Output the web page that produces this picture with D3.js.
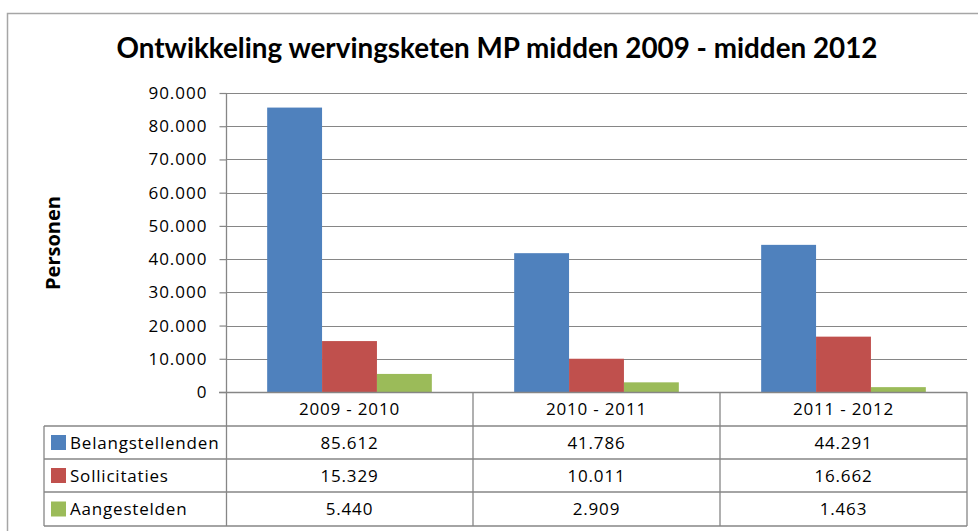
<!DOCTYPE html>
<html>
<head>
<meta charset="utf-8">
<script src="https://cdn.jsdelivr.net/npm/d3@7"></script>
<style>
  body { margin: 0; background: #fff; }
  svg { display: block; font-family: "Open Sans", sans-serif; font-variant-ligatures: none; }
</style>
</head>
<body>
<svg id="chart" width="978" height="531"></svg>
<script>
const categories = ["2009 - 2010", "2010 - 2011", "2011 - 2012"];
const series = ["Belangstellenden", "Sollicitaties", "Aangestelden"];
const belangstellenden = [85612, 41786, 44291];
const sollicitaties = [15329, 10011, 16662];
const aangestelden = [5440, 2909, 1463];
const yTicks = [0, 10000, 20000, 30000, 40000, 50000, 60000, 70000, 80000, 90000];
const colors = ["#4F81BD", "#C0504D", "#9BBB59"];

const values = [belangstellenden, sollicitaties, aangestelden];
const fmt = v => d3.format(",")(v).replace(/,/g, ".");

const svg = d3.select("#chart");
const gridColor = "#868686";

// chart border
svg.append("rect")
   .attr("x", 7.5).attr("y", 13.5)
   .attr("width", 990).attr("height", 540)
   .attr("fill", "none").attr("stroke", "#a6a6a6").attr("stroke-width", 1.5);

// title
svg.append("text")
   .attr("x", 497).attr("y", 58)
   .attr("text-anchor", "middle")
   .attr("font-family", "Lato, sans-serif")
   .attr("font-size", 28).attr("font-weight", "bold")
   .attr("textLength", 761).attr("lengthAdjust", "spacingAndGlyphs")
   .text("Ontwikkeling wervingsketen MP midden 2009 - midden 2012");

// scales
const x = d3.scaleBand().domain(categories).range([226, 967]);
const xs = d3.scaleBand().domain(series).range([0, x.bandwidth()]).paddingOuter(0.75);
const y = d3.scaleLinear().domain([0, 90000]).range([392, 93]);

// gridlines
svg.append("g")
   .selectAll("line")
   .data(yTicks.slice(1))
   .join("line")
   .attr("x1", 226).attr("x2", 967)
   .attr("y1", d => Math.round(y(d)) + 0.5).attr("y2", d => Math.round(y(d)) + 0.5)
   .attr("stroke", gridColor).attr("stroke-width", 1.2);

// bars
series.forEach((s, i) => {
  svg.append("g")
     .selectAll("rect")
     .data(categories)
     .join("rect")
     .attr("x", (c) => x(c) + xs(s))
     .attr("width", xs.bandwidth())
     .attr("y", (c, j) => y(values[i][j]))
     .attr("height", (c, j) => y(0) - y(values[i][j]))
     .attr("fill", colors[i]);
});

// y axis
const yAxis = svg.append("g")
   .attr("transform", "translate(226.5,0)")
   .call(d3.axisLeft(y).tickValues(yTicks).tickFormat(fmt).tickSize(7).tickPadding(12));
yAxis.select(".domain").remove();
yAxis.selectAll("line").attr("stroke", gridColor).attr("stroke-width", 1.2);
yAxis.selectAll("text")
     .attr("font-size", 17).attr("fill", "#000")
     .attr("font-family", "'Open Sans', sans-serif")
     .attr("letter-spacing", 1);

// axis title
svg.append("text")
   .attr("transform", "translate(60,243) rotate(-90)")
   .attr("text-anchor", "middle")
   .attr("font-size", 20).attr("font-weight", "bold")
   .text("Personen");

// data table
const tableLeft = 44, rowTops = [392, 426, 459, 492, 526];
const tbl = svg.append("g").attr("stroke", gridColor).attr("stroke-width", 1.3).attr("fill", "none");

// vertical axis line + table verticals
tbl.append("line").attr("x1", 226.5).attr("x2", 226.5).attr("y1", 93).attr("y2", rowTops[4]);
categories.forEach(c => {
  tbl.append("line").attr("x1", x(c) + x.bandwidth()).attr("x2", x(c) + x.bandwidth())
     .attr("y1", rowTops[0]).attr("y2", rowTops[4]);
});
tbl.append("line").attr("x1", tableLeft).attr("x2", tableLeft).attr("y1", rowTops[1]).attr("y2", rowTops[4]);
// horizontal lines
tbl.append("line").attr("x1", 219).attr("x2", 967).attr("y1", rowTops[0] + 0.5).attr("y2", rowTops[0] + 0.5);
rowTops.slice(1).forEach(t => {
  tbl.append("line").attr("x1", tableLeft).attr("x2", 967).attr("y1", t).attr("y2", t);
});

// category header
svg.append("g")
   .selectAll("text")
   .data(categories)
   .join("text")
   .attr("x", c => x(c) + x.bandwidth() / 2)
   .attr("y", (rowTops[0] + rowTops[1]) / 2 + 6)
   .attr("text-anchor", "middle").attr("font-size", 17).attr("letter-spacing", 0.8)
   .text(c => c);

// series rows
series.forEach((s, i) => {
  const mid = (rowTops[i + 1] + rowTops[i + 2]) / 2;
  svg.append("rect")
     .attr("x", 51).attr("y", mid - 7.5).attr("width", 15).attr("height", 15)
     .attr("fill", colors[i]);
  svg.append("text")
     .attr("x", 70).attr("y", mid + 6)
     .attr("font-size", 17).attr("letter-spacing", 0.8)
     .text(s);
  svg.append("g")
     .selectAll("text")
     .data(categories)
     .join("text")
     .attr("x", c => x(c) + x.bandwidth() / 2)
     .attr("y", mid + 6)
     .attr("text-anchor", "middle").attr("font-size", 17).attr("letter-spacing", 0.8)
     .text((c, j) => fmt(values[i][j]));
});
</script>
</body>
</html>
